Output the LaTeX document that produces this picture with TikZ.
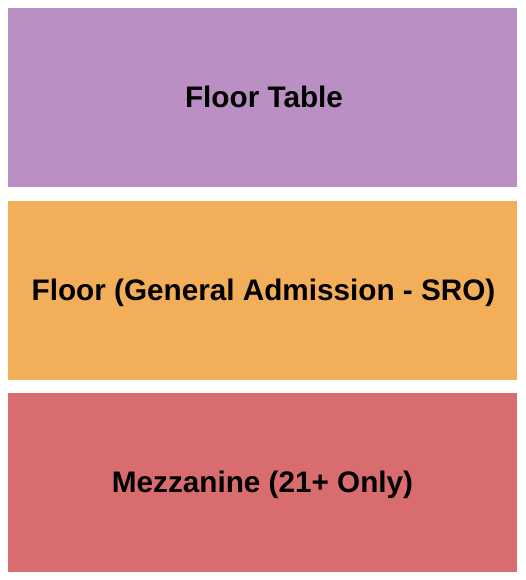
\documentclass[tikz,border=0pt]{standalone}
\usepackage{fontspec}
\setmainfont{Liberation Sans}
\definecolor{ftable}{RGB}{186,143,196}
\definecolor{fga}{RGB}{243,174,89}
\definecolor{fmezz}{RGB}{216,108,110}
\begin{document}
\begin{tikzpicture}[x=1pt,y=1pt,
  lbl/.style={anchor=base,inner sep=0pt,font=\fontsize{29.7}{31}\selectfont\bfseries,text=black}]
\useasboundingbox (0,0) rectangle (525,580);
\fill[white] (0,0) rectangle (525,580);
\fill[ftable] (8,393) rectangle (517,572);
\fill[fga] (8,200) rectangle (517,379);
\fill[fmezz] (8,8) rectangle (517,187);
\node[lbl] (t1) at (264,472) {Floor Table};
\node[lbl] (t2) at (263.5,279) {Floor (General Admission - SRO)};
\node[lbl] (t3) at (262.5,87) {Mezzanine (21+ Only)};
\end{tikzpicture}
\end{document}
